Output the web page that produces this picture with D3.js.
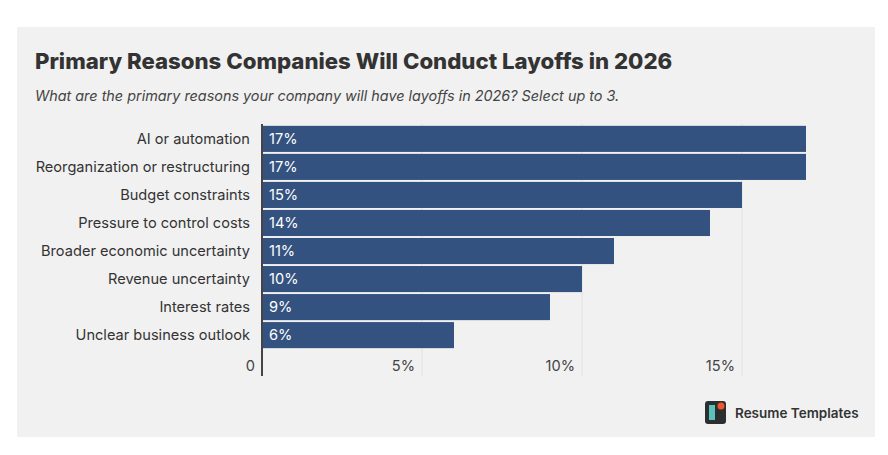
<!DOCTYPE html>
<html>
<head>
<meta charset="utf-8">
<script src="https://cdn.jsdelivr.net/npm/d3@7"></script>
<style>
  body { margin: 0; background: #fff; }
  text { font-family: Inter, "Noto Sans", sans-serif; }
</style>
</head>
<body>
<div id="chart"></div>
<script>
// survey answers, share of respondents (%)
var reasons = [
	"AI or automation",
	"Reorganization or restructuring",
	"Budget constraints",
	"Pressure to control costs",
	"Broader economic uncertainty",
	"Revenue uncertainty",
	"Interest rates",
	"Unclear business outlook"
];
var shares = [17, 17, 15, 14, 11, 10, 9, 6];
var ticks = [0, 5, 10, 15];

var data = reasons.map(function(r, i){ return {reason: r, value: shares[i]}; });

var W = 888, H = 455;
var svg = d3.select("#chart").append("svg")
	.attr("width", W)
	.attr("height", H);

// grey panel
svg.append("rect")
	.attr("x", 17).attr("y", 27)
	.attr("width", 858).attr("height", 410)
	.style("fill", "#f1f1f1");

svg.append("text")
	.attr("x", 35).attr("y", 69)
	.style("font-size", "22.2px")
	.style("font-weight", 800)
	.style("fill", "#333")
	.text("Primary Reasons Companies Will Conduct Layoffs in 2026");

svg.append("text")
	.attr("x", 35).attr("y", 101)
	.style("font-size", "14.4px")
	.style("font-style", "italic")
	.style("fill", "#444")
	.text("What are the primary reasons your company will have layoffs in 2026? Select up to 3.");

var x = d3.scaleLinear().domain([0, 17]).range([262, 806]);
var y = d3.scaleBand().domain(reasons).range([125, 349]).paddingInner(0.07).paddingOuter(0.03);

var axisTop = 124, axisBottom = 376;

// gridlines
svg.append("g").selectAll("line")
	.data(ticks.slice(1))
	.enter()
	.append("line")
	.attr("x1", function(d){ return x(d); })
	.attr("x2", function(d){ return x(d); })
	.attr("y1", axisTop).attr("y2", axisBottom)
	.style("stroke", "#e0e0e0")
	.style("stroke-width", 1);

svg.append("g").selectAll("rect")
	.data(data)
	.enter()
	.append("rect")
	.attr("x", x(0))
	.attr("y", function(d){ return y(d.reason); })
	.attr("width", function(d){ return x(d.value) - x(0); })
	.attr("height", y.bandwidth())
	.style("fill", "#34527f");

svg.append("g").selectAll("text")
	.data(data)
	.enter()
	.append("text")
	.attr("x", x(0) + 7)
	.attr("y", function(d){ return y(d.reason) + y.bandwidth() / 2; })
	.attr("dy", "0.36em")
	.style("font-size", "14.6px")
	.style("fill", "#fff")
	.text(function(d){ return d.value + "%"; });

// category labels
svg.append("g").selectAll("text")
	.data(data)
	.enter()
	.append("text")
	.attr("x", 250)
	.attr("y", function(d){ return y(d.reason) + y.bandwidth() / 2; })
	.attr("dy", "0.36em")
	.attr("text-anchor", "end")
	.style("font-size", "14.6px")
	.style("fill", "#333")
	.text(function(d){ return d.reason; });

// tick labels, sitting left of each gridline
svg.append("g").selectAll("text")
	.data(ticks)
	.enter()
	.append("text")
	.attr("x", function(d){ return x(d) - 7; })
	.attr("y", 366)
	.attr("dy", "0.36em")
	.attr("text-anchor", "end")
	.style("font-size", "14.6px")
	.style("fill", "#444")
	.text(function(d){ return d === 0 ? "0" : d + "%"; });

svg.append("line")
	.attr("x1", x(0)).attr("x2", x(0))
	.attr("y1", axisTop).attr("y2", axisBottom)
	.style("stroke", "#444")
	.style("stroke-width", 2);

// logo
var logo = svg.append("g").attr("transform", "translate(705,401)");
logo.append("rect")
	.attr("width", 21).attr("height", 23).attr("rx", 3)
	.style("fill", "#2c2f2f");
logo.append("rect")
	.attr("x", 4).attr("y", 4).attr("width", 6).attr("height", 15)
	.style("fill", "#5cc2bd");
logo.append("circle")
	.attr("cx", 16).attr("cy", 5).attr("r", 3.5)
	.style("fill", "#f0562a");
svg.append("text")
	.attr("x", 735).attr("y", 413)
	.attr("dy", "0.36em")
	.style("font-size", "13.5px")
	.style("font-weight", 600)
	.style("fill", "#333")
	.text("Resume Templates");
</script>
</body>
</html>
